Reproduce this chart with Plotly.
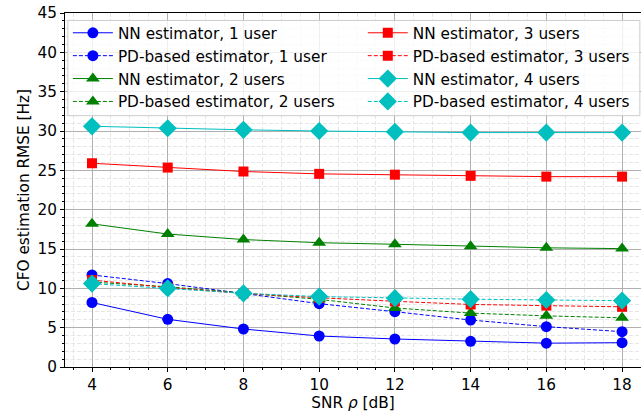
import plotly.graph_objects as go

snr = [4, 6, 8, 10, 12, 14, 16, 18]

nn_1 = [8.2, 6.06, 4.83, 3.94, 3.56, 3.27, 3.03, 3.09]
pd_1 = [11.7, 10.6, 9.35, 8.05, 7.03, 5.97, 5.13, 4.49]
nn_2 = [18.2, 16.9, 16.2, 15.8, 15.6, 15.35, 15.15, 15.05]
pd_2 = [10.8, 10.2, 9.4, 8.6, 7.5, 6.85, 6.5, 6.25]
nn_3 = [25.9, 25.35, 24.85, 24.55, 24.45, 24.3, 24.2, 24.2]
pd_3 = [11.05, 10.1, 9.35, 8.8, 8.35, 7.95, 7.8, 7.65]
nn_4 = [30.6, 30.35, 30.15, 30.0, 29.9, 29.8, 29.8, 29.8]
pd_4 = [10.6, 10.0, 9.37, 8.95, 8.75, 8.62, 8.52, 8.43]

series = [
    ("NN estimator, 1 user", nn_1, "#0000ff", "solid", "circle", 11, "legend"),
    ("PD-based estimator, 1 user", pd_1, "#0000ff", "4px,2px", "circle", 11, "legend"),
    ("NN estimator, 2 users", nn_2, "#008000", "solid", "triangle-up", 12, "legend"),
    ("PD-based estimator, 2 users", pd_2, "#008000", "4px,2px", "triangle-up", 12, "legend"),
    ("NN estimator, 3 users", nn_3, "#ff0000", "solid", "square", 10, "legend2"),
    ("PD-based estimator, 3 users", pd_3, "#ff0000", "4px,2px", "square", 10, "legend2"),
    ("NN estimator, 4 users", nn_4, "#00bfbf", "solid", "diamond", 14, "legend2"),
    ("PD-based estimator, 4 users", pd_4, "#00bfbf", "4px,2px", "diamond", 14, "legend2"),
]

fig = go.Figure()
for i, (name, vals, col, dash, sym, size, leg) in enumerate(series):
    fig.add_trace(go.Scatter(
        x=snr, y=vals, name=name, mode="lines+markers",
        line=dict(color=col, width=1, dash=dash),
        marker=dict(color=col, symbol=sym, size=size, line=dict(width=0)),
        legend=leg, legendgroup=f"g{i}",
    ))

font = "DejaVu Sans"
fs = 15.3
axis_common = dict(
    showline=True, linecolor="black", linewidth=1,
    gridcolor="#b0b0b0", gridwidth=1,
    ticks="outside", ticklen=4, tickcolor="black", tickwidth=1,
    tickfont=dict(family=font, size=fs, color="black"),
    zeroline=False,
)

fig.update_layout(
    width=641, height=416,
    margin=dict(l=65, r=0, t=13, b=49),
    paper_bgcolor="white", plot_bgcolor="white",
    font=dict(family=font, size=fs, color="black"),
    xaxis=dict(
        range=[3.287, 18.5], dtick=2, tick0=0, mirror=True,
        title=dict(text="SNR <i>ρ</i> [dB]", font=dict(family=font, size=fs), standoff=2),
        minor=dict(dtick=0.5, tick0=0, ticks="outside", ticklen=2, tickcolor="black",
                   showgrid=True, gridcolor="#e6e6e6", griddash="4px,2px", gridwidth=1),
        **axis_common,
    ),
    yaxis=dict(
        range=[0, 45], dtick=5, tick0=0,
        title=dict(text="CFO estimation RMSE [Hz]", font=dict(family=font, size=fs), standoff=4),
        minor=dict(dtick=1, tick0=0, ticks="outside", ticklen=2, tickcolor="black",
                   showgrid=True, gridcolor="#e6e6e6", griddash="4px,2px", gridwidth=1),
        **axis_common,
    ),
    legend=dict(x=0.005, y=0.9906, xanchor="left", yanchor="top", itemwidth=40,
                bgcolor="rgba(0,0,0,0)", borderwidth=0, tracegroupgap=0,
                font=dict(family=font, size=fs)),
    legend2=dict(x=0.517, y=0.9906, xanchor="left", yanchor="top", itemwidth=40,
                 bgcolor="rgba(0,0,0,0)", borderwidth=0, tracegroupgap=0,
                 font=dict(family=font, size=fs)),
    shapes=[dict(type="rect", xref="paper", yref="paper", layer="above",
                 x0=0.005, x1=0.998, y0=0.71, y1=0.979,
                 fillcolor="rgba(255,255,255,0.8)", line=dict(color="#cccccc", width=1))],
)

fig.write_html("out.html")
